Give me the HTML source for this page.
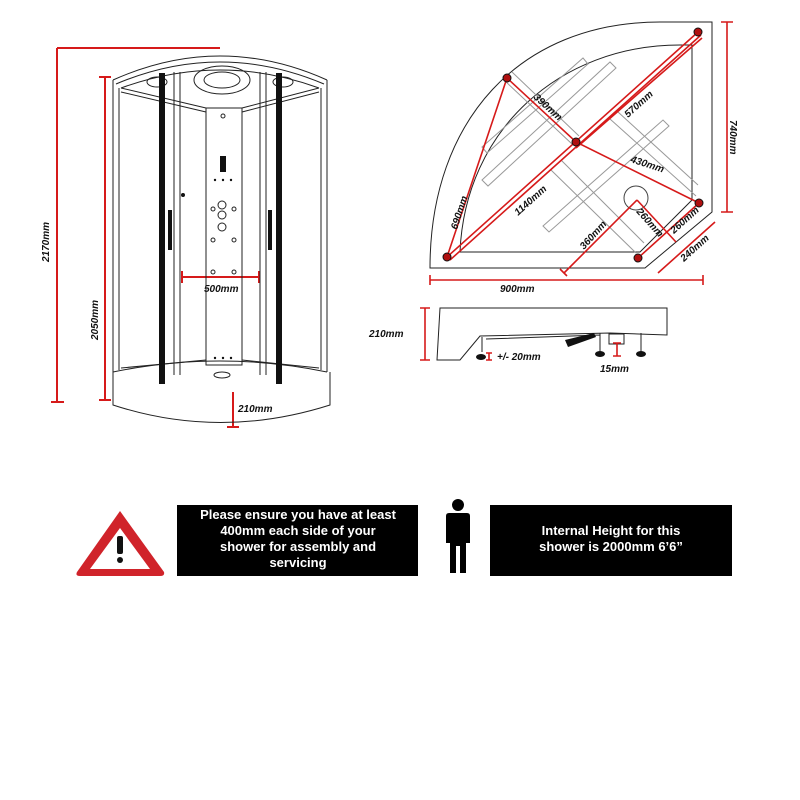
<!DOCTYPE html>
<html><head><style>
html,body{margin:0;padding:0;background:#fff;width:800px;height:800px;overflow:hidden}
svg{display:block}
.t{font-family:"Liberation Sans",sans-serif;font-weight:bold;font-style:italic;font-size:10px;fill:#111}
.w{font-family:"Liberation Sans",sans-serif;font-weight:bold;font-size:13px;fill:#fff}
</style></head><body>
<svg width="800" height="800" viewBox="0 0 800 800" xmlns="http://www.w3.org/2000/svg">
<!-- LEFT SHOWER -->
<g stroke="#d61a1a" stroke-width="2" fill="none">
<path d="M57 48 H220 M57 48 V402 M51 402 H64"/>
<path d="M105 77 V400 M99 77 H111 M99 400 H111"/>
<path d="M182 277 H259 M182 271 V283 M259 271 V283"/>
<path d="M233 392 V427 M227 427 H239"/>
</g>
<text class="t" transform="translate(49,262) rotate(-90)">2170mm</text>
<text class="t" transform="translate(98,340) rotate(-90)">2050mm</text>
<text class="t" x="204" y="292">500mm</text>
<text class="t" x="238" y="412">210mm</text>
<g stroke="#222" stroke-width="1" fill="none">
<path d="M113 80 Q220 32 327 80"/>
<path d="M116 84 Q220 40 324 84"/>
<path d="M113 80 V372 M327 80 V372 M119 88 V370 M321 88 V370"/>
<path d="M121 88 Q220 52 319 88"/>
<path d="M121 88 L206 108 M319 88 L242 108"/>
<path d="M121 92 L206 112 M319 92 L242 112"/>
<path d="M206 108 V365 H242 V108 Z"/>
<path d="M180 72 V375 M260 72 V375 M174 72 V375 M266 72 V375"/>
<ellipse cx="222" cy="80" rx="28" ry="14"/>
<ellipse cx="222" cy="80" rx="18" ry="8"/>
<ellipse cx="157" cy="82" rx="10" ry="5"/>
<ellipse cx="283" cy="82" rx="10" ry="5"/>
<path d="M121 368 L206 360 M319 368 L242 360"/>
<path d="M113 372 Q220 350 327 372"/>
<path d="M113 372 V405 Q220 440 330 405 V372"/>
<ellipse cx="222" cy="375" rx="8" ry="3"/>
<circle cx="223" cy="116" r="2"/>
<circle cx="222" cy="205" r="4"/><circle cx="222" cy="215" r="4"/><circle cx="222" cy="227" r="4"/>
<circle cx="213" cy="209" r="2"/><circle cx="234" cy="209" r="2"/>
<circle cx="213" cy="240" r="2"/><circle cx="234" cy="240" r="2"/>
<circle cx="213" cy="272" r="2"/><circle cx="234" cy="272" r="2"/>
</g>
<g fill="#111">
<rect x="159" y="73" width="6" height="311"/>
<rect x="276" y="73" width="6" height="311"/>
<rect x="168" y="210" width="4" height="40"/>
<rect x="268" y="210" width="4" height="40"/>
<rect x="220" y="156" width="6" height="16"/>
<circle cx="183" cy="195" r="2"/>
<circle cx="215" cy="180" r="1.2"/><circle cx="223" cy="180" r="1.2"/><circle cx="231" cy="180" r="1.2"/>
<circle cx="215" cy="358" r="1.2"/><circle cx="223" cy="358" r="1.2"/><circle cx="231" cy="358" r="1.2"/>
</g>
<!-- PLAN VIEW -->
<g stroke="#222" stroke-width="1" fill="none">
<path d="M430 268 C430 120 520 22 660 22 L712 22 L712 212 L645 268 Z"/>
<path d="M460 252 C465 130 560 45 680 45 L692 45 L692 200 L640 252 Z"/>
</g>
<g stroke="#999" stroke-width="1" fill="none">
<path d="M482 147 L583 58 L588 64 L487 153 Z"/>
<path d="M482 180 L610 62 L616 68 L488 186 Z"/>
<path d="M543 226 L663 120 L669 126 L549 232 Z"/>
<path d="M551 170 L636 253 M561 160 L644 243"/>
<path d="M610 119 L696 196 M618 112 L698 185"/>
<path d="M512 72 L579 136 M504 80 L572 144"/>
</g>
<circle cx="636" cy="198" r="12" fill="none" stroke="#444"/>
<g stroke="#d61a1a" stroke-width="1.6" fill="none">
<path d="M447 257 L698 32 M450 260 L701 35"/>
<path d="M507 78 L447 257 M507 78 L576 142 L699 203"/>
<path d="M576 148 L702 38"/>
<path d="M638 258 L699 203"/>
<path d="M637 200 L676 242"/>
<path d="M637 200 L564 273 M560 269 L567 276"/>
<path d="M658 273 L715 222"/>
<path d="M430 280 H703 M430 275 V285 M703 275 V285"/>
<path d="M727 22 V212 M721 22 H733 M721 212 H733"/>
</g>
<g fill="#b01010" stroke="#111" stroke-width="1">
<circle cx="507" cy="78" r="4"/><circle cx="576" cy="142" r="4"/><circle cx="698" cy="32" r="4"/>
<circle cx="699" cy="203" r="4"/><circle cx="638" cy="258" r="4"/><circle cx="447" cy="257" r="4"/>
</g>
<text class="t" transform="translate(533,98) rotate(42)">390mm</text>
<text class="t" transform="translate(628,118) rotate(-42)">570mm</text>
<text class="t" transform="translate(630,162) rotate(18)">430mm</text>
<text class="t" transform="translate(518,216) rotate(-42)">1140mm</text>
<text class="t" transform="translate(457,230) rotate(-72)">690mm</text>
<text class="t" transform="translate(636,212) rotate(48)">260mm</text>
<text class="t" transform="translate(674,234) rotate(-42)">260mm</text>
<text class="t" transform="translate(584,250) rotate(-48)">360mm</text>
<text class="t" transform="translate(684,262) rotate(-42)">240mm</text>
<text class="t" x="500" y="292">900mm</text>
<text class="t" transform="translate(730,120) rotate(90)">740mm</text>
<!-- SIDE VIEW -->
<g stroke="#222" stroke-width="1" fill="none">
<path d="M440 308 H667 V335 L610 333 L480 336 L460 360 H437 Z"/>
<path d="M482 337 V352 M600 333 V352 M641 333 V352 M486 339 L600 335"/>
<rect x="609" y="334" width="15" height="10"/>
</g>
<path d="M565 340 L594 333 L596 337 L568 347 Z" fill="#111"/>
<g fill="#111"><ellipse cx="481" cy="357" rx="5" ry="3"/><ellipse cx="600" cy="354" rx="5" ry="3"/><ellipse cx="641" cy="354" rx="5" ry="3"/></g>
<g stroke="#d61a1a" stroke-width="1.6" fill="none">
<path d="M425 308 V360 M420 308 H430 M420 360 H430"/>
<path d="M489 353 V360 M486 353 H492 M486 360 H492"/>
<path d="M617 343 V356 M613 343 H621 M613 356 H621"/>
</g>
<text class="t" x="369" y="337">210mm</text>
<text class="t" x="497" y="360">+/- 20mm</text>
<text class="t" x="600" y="372">15mm</text>
<!-- BANNER -->
<path d="M120 511 L164 572 Q165 576 160 576 H80 Q75 576 77 572 Z" fill="#d0232a"/>
<path d="M120 528 L150 569 H90 Z" fill="#fff"/>
<rect x="117" y="536" width="6" height="18" rx="2" fill="#111"/>
<circle cx="120" cy="560" r="3" fill="#111"/>
<rect x="177" y="505" width="241" height="71" fill="#000"/>
<text class="w" text-anchor="middle" x="298" y="519">Please ensure you have at least</text>
<text class="w" text-anchor="middle" x="298" y="535">400mm each side of your</text>
<text class="w" text-anchor="middle" x="298" y="551">shower for assembly and</text>
<text class="w" text-anchor="middle" x="298" y="567">servicing</text>
<circle cx="458" cy="505" r="6" fill="#000"/>
<path d="M449 513 H467 Q470 513 470 516 V543 H466 V573 H460 V546 H456 V573 H450 V543 H446 V516 Q446 513 449 513 Z" fill="#000"/>
<rect x="490" y="505" width="242" height="71" fill="#000"/>
<text class="w" text-anchor="middle" x="611" y="535">Internal Height for this</text>
<text class="w" text-anchor="middle" x="611" y="551">shower is 2000mm 6’6”</text>
</svg>
</body></html>
